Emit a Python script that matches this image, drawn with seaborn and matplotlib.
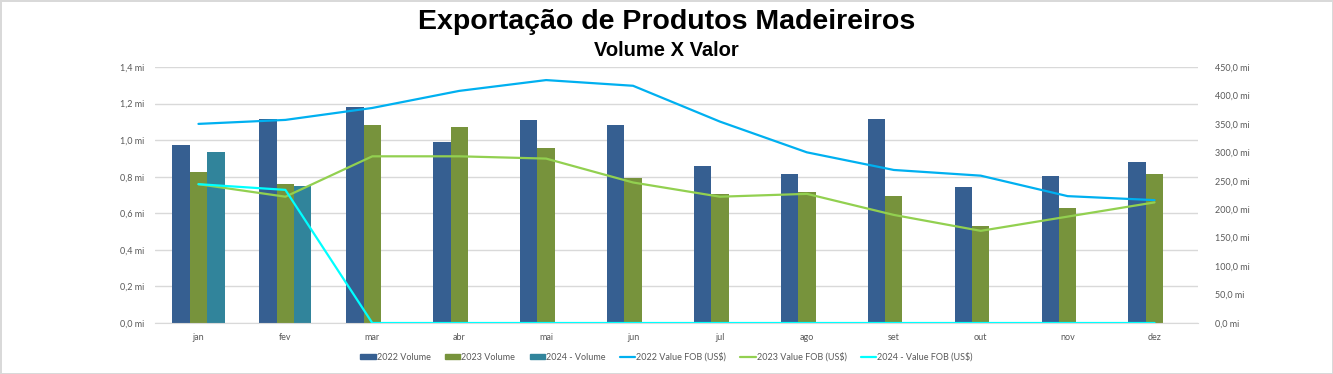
"""Exportação de Produtos Madeireiros - volume x valor (2022-2024)."""

import matplotlib

matplotlib.use("Agg")

import matplotlib.pyplot as plt
import numpy as np
import pandas as pd
import seaborn as sns
from matplotlib.ticker import FuncFormatter, MultipleLocator


MONTHS = ["jan", "fev", "mar", "abr", "mai", "jun",
          "jul", "ago", "set", "out", "nov", "dez"]

# volume, milhões
VOLUME_2022 = [0.973, 1.116, 1.181, 0.990, 1.110, 1.083,
               0.859, 0.815, 1.116, 0.744, 0.804, 0.880]
VOLUME_2023 = [0.826, 0.760, 1.083, 1.072, 0.957, 0.793,
               0.705, 0.716, 0.695, 0.530, 0.629, 0.815]
VOLUME_2024 = [0.935, 0.749, 0, 0, 0, 0, 0, 0, 0, 0, 0, 0]

# valor FOB (US$), milhões
VALUE_2022 = [350, 357, 378, 408, 427, 417, 354, 300, 269, 259, 223, 216]
VALUE_2023 = [244, 222, 293, 293, 289, 247, 222, 227, 190, 162, 187, 212]
VALUE_2024 = [244, 234, 0, 0, 0, 0, 0, 0, 0, 0, 0, 0]

BAR_SERIES = ["2022 Volume", "2023 Volume", "2024 - Volume"]
LINE_SERIES = ["2022 Value FOB (US$)", "2023 Value FOB (US$)",
               "2024 - Value FOB (US$)"]
BAR_COLORS = ["#365F91", "#77933C", "#31849B"]
LINE_COLORS = ["#00B0F0", "#92D050", "#00FFFF"]

TICK_FONT = "Lato"
TICK_COLOR = "#595959"


def fmt_mi(value, _pos):
    return f"{value:.1f} mi".replace(".", ",")


def main():
    sns.set_style("white")
    plt.rcParams["font.family"] = ["Liberation Sans", "DejaVu Sans"]

    volumes = pd.DataFrame(
        {
            "mes": MONTHS * 3,
            "volume": VOLUME_2022 + VOLUME_2023 + VOLUME_2024,
            "serie": np.repeat(BAR_SERIES, len(MONTHS)),
        }
    )
    values = pd.DataFrame(
        {
            "mes": MONTHS * 3,
            "valor": VALUE_2022 + VALUE_2023 + VALUE_2024,
            "serie": np.repeat(LINE_SERIES, len(MONTHS)),
        }
    )

    fig = plt.figure(figsize=(13.33, 3.74), dpi=100)
    fig.patch.set_edgecolor("#D9D9D9")
    fig.patch.set_linewidth(1.0)
    ax = fig.add_axes([155 / 1333, 1 - 323 / 374, 1043 / 1333, 256 / 374])

    sns.barplot(
        data=volumes, x="mes", y="volume", hue="serie",
        order=MONTHS, hue_order=BAR_SERIES, palette=BAR_COLORS,
        width=0.6, saturation=1, errorbar=None, linewidth=0,
        ax=ax, legend=False,
    )
    ax.set_ylim(0, 1.4)
    ax.set_xlim(-0.5, len(MONTHS) - 0.5)
    ax.yaxis.set_major_locator(MultipleLocator(0.2))
    ax.yaxis.set_major_formatter(FuncFormatter(fmt_mi))
    ax.grid(axis="y", color="#D9D9D9", linewidth=1.0)
    ax.set_axisbelow(True)
    for side in ["top", "left", "right"]:
        ax.spines[side].set_visible(False)
    ax.spines["bottom"].set_color("#D9D9D9")
    ax.set_xlabel("")
    ax.set_ylabel("")

    ax2 = ax.twinx()
    sns.lineplot(
        data=values, x="mes", y="valor", hue="serie",
        hue_order=LINE_SERIES, palette=LINE_COLORS,
        linewidth=1.6, sort=False, ax=ax2, legend=False,
    )
    ax2.set_ylim(0, 450)
    ax2.yaxis.set_major_locator(MultipleLocator(50))
    ax2.yaxis.set_major_formatter(FuncFormatter(fmt_mi))
    ax2.set_xlim(-0.5, len(MONTHS) - 0.5)
    for side in ["top", "left", "right", "bottom"]:
        ax2.spines[side].set_visible(False)
    ax2.set_xlabel("")
    ax2.set_ylabel("")
    ax2.grid(False)

    for axis in (ax, ax2):
        axis.tick_params(axis="both", length=0, labelsize=6.5,
                         labelcolor=TICK_COLOR)
        for label in axis.get_xticklabels() + axis.get_yticklabels():
            label.set_fontfamily(TICK_FONT)
    ax.tick_params(axis="y", pad=8)
    ax.tick_params(axis="x", pad=7)
    ax2.tick_params(axis="y", pad=12)

    fig.text(0.5, 1 - 22 / 374, "Exportação de Produtos Madeireiros",
             ha="center", va="center", fontsize=20.5, fontweight="bold",
             color="black")
    fig.text(0.5, 1 - 51 / 374, "Volume X Valor",
             ha="center", va="center", fontsize=14.5, fontweight="bold",
             color="black")

    handles = [plt.Rectangle((0, 0), 1, 1, color=c) for c in BAR_COLORS]
    handles += [plt.Line2D([0], [0], color=c, linewidth=1.6) for c in LINE_COLORS]
    legend = fig.legend(
        handles, BAR_SERIES + LINE_SERIES,
        loc="center", bbox_to_anchor=(0.5, 1 - 357 / 374), ncol=6,
        frameon=False, handlelength=1.7, handleheight=0.6,
        handletextpad=0.1, columnspacing=1.6,
        prop={"family": TICK_FONT, "size": 6.5},
    )
    for text in legend.get_texts():
        text.set_color(TICK_COLOR)

    fig.savefig("out.png", dpi=100)
    plt.close(fig)


if __name__ == "__main__":
    main()
